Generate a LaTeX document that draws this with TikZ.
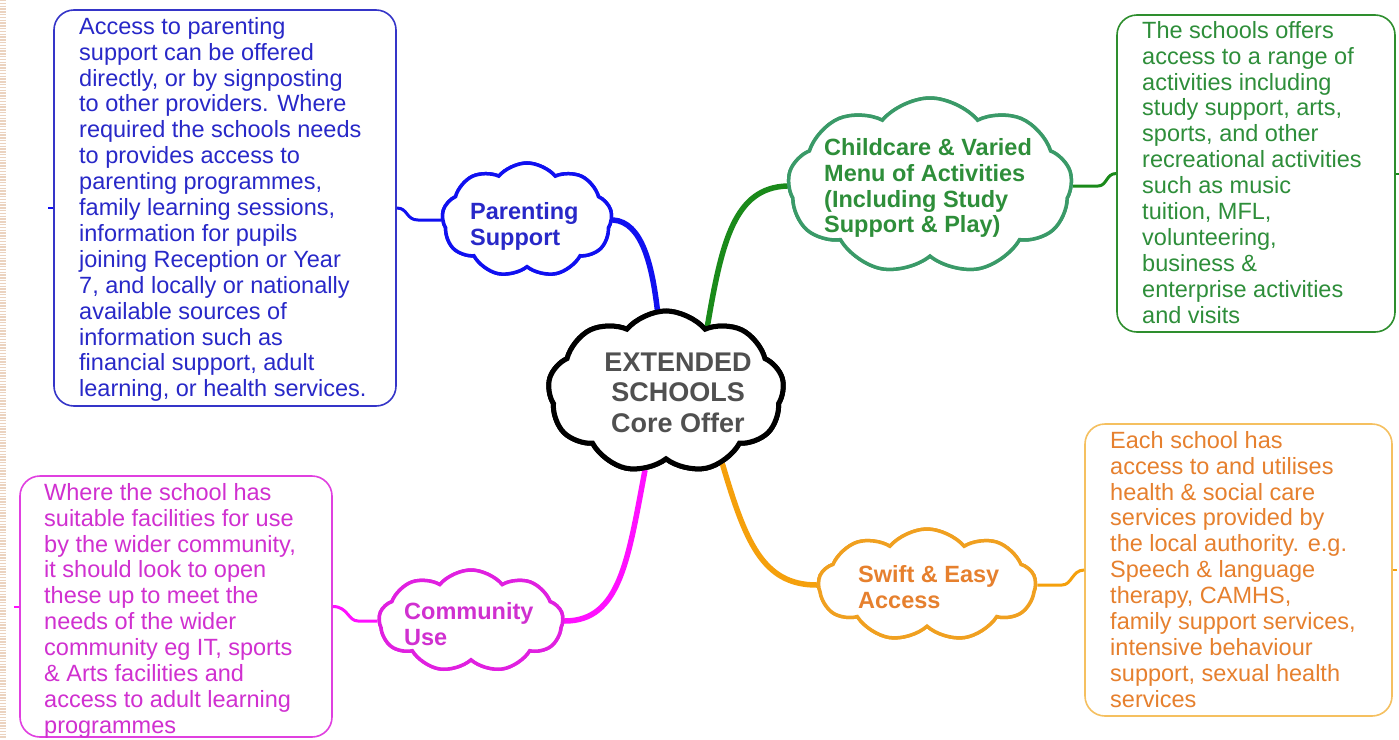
\documentclass[tikz,border=0pt]{standalone}
\usepackage{fontspec}
\setmainfont{Liberation Sans}
\usetikzlibrary{shapes.symbols}
\definecolor{cblue}{HTML}{1010F0}
\definecolor{tblue}{HTML}{2828C8}
\definecolor{bblue}{HTML}{3535C8}
\definecolor{cgreenline}{HTML}{1A8A1A}
\definecolor{cgreen}{HTML}{3A9A68}
\definecolor{tgreen}{HTML}{2E8E3A}
\definecolor{bgreen}{HTML}{2E8E2E}
\definecolor{corange}{HTML}{F5A00C}
\definecolor{tcorange}{HTML}{F0A020}
\definecolor{torange}{HTML}{E6802E}
\definecolor{borange}{HTML}{F5C060}
\definecolor{cmag}{HTML}{FF10FF}
\definecolor{tcmag}{HTML}{E020E0}
\definecolor{tmag}{HTML}{D030D0}
\definecolor{bmag}{HTML}{E040E0}
\definecolor{tgray}{HTML}{505050}
\definecolor{stripe}{HTML}{EBD3C0}
\begin{document}
\begin{tikzpicture}[x=1pt,y=-1pt,
  cloudshape/.style={cloud, cloud puffs=9, cloud puff arc=100, cloud ignores aspect, fill=white, inner sep=0pt},
  infobox/.style={rectangle, rounded corners=20pt, line width=1.6pt, fill=white},
  btext/.style={anchor=north west, inner sep=0pt, align=left, font=\fontsize{23.5}{25.9}\selectfont},
  ctext/.style={anchor=north west, inner sep=0pt, align=left, font=\fontsize{23.5}{25.9}\selectfont\bfseries},
  mainline/.style={line width=5.5pt, line cap=round},
  subline/.style={line width=3pt},
  stub/.style={line width=2pt},
  centercloud/.style={cloudshape, draw=black, line width=5pt, minimum width=236pt, minimum height=162pt},
  bluecloud/.style={cloudshape, draw=cblue, line width=3.5pt, minimum width=170pt, minimum height=114pt},
  greencloud/.style={cloudshape, draw=cgreen, line width=3.5pt, minimum width=284pt, minimum height=176pt},
  orangecloud/.style={cloudshape, draw=tcorange, line width=3.5pt, minimum width=217pt, minimum height=112pt},
  magcloud/.style={cloudshape, draw=tcmag, line width=3.5pt, minimum width=184pt, minimum height=102pt}]
\useasboundingbox (0,0) rectangle (1399,739);
\fill[white] (0,0) rectangle (1399,739);
\draw[stripe, line width=6pt, dash pattern=on 1.4pt off 1.4pt] (3,0) -- (3,739);

% info boxes
\node[infobox, draw=bblue, minimum width=342pt, minimum height=396pt] (pbox) at (225,208) {};
\node[infobox, draw=bgreen, minimum width=278pt, minimum height=317pt] (gbox) at (1256,173.5) {};
\node[infobox, draw=borange, minimum width=307pt, minimum height=292pt] (obox) at (1238.5,570) {};
\node[infobox, draw=bmag, minimum width=312pt, minimum height=261pt] (mbox) at (176,606.5) {};

% clouds (for anchors)
\node[centercloud] (cc) at (666,392) {};
\node[bluecloud] (pc) at (527,220) {};
\node[greencloud] (gc) at (930,186) {};
\node[orangecloud] (sc) at (927,585) {};
\node[magcloud] (uc) at (471,621) {};

\draw[mainline, cblue] (cc.96) .. controls (652,265) and (642,222) .. (pc.east);
\draw[mainline, cgreenline] (cc.58) .. controls (722,240) and (735,188) .. (gc.west);
\draw[mainline, corange] (cc.-52) .. controls (745,540) and (762,585) .. (sc.west);
\draw[mainline, cmag] (cc.-105) .. controls (628,560) and (620,621) .. (uc.east);

% clouds drawn over the main connectors
\node[centercloud] at (cc) {};
\node[bluecloud] at (pc) {};
\node[greencloud] at (gc) {};
\node[orangecloud] at (sc) {};
\node[magcloud] at (uc) {};

% sub connectors
\draw[subline, cblue] (pc.west) -- (418,220) .. controls (406,220) and (408,208) .. (pbox.east);
\draw[subline, cgreenline] (gc.east) -- (1098,186) .. controls (1107,186) and (1106,173.5) .. (gbox.west);
\draw[subline, corange] (sc.east) -- (1062,585) .. controls (1072,585) and (1072,570) .. (obox.west);
\draw[subline, cmag] (uc.west) -- (358,621) .. controls (348,621) and (348,606.5) .. (mbox.east);

% stubs
\draw[stub, cblue] (pbox.west) -- ++(-5,0);
\draw[stub, cgreenline] (gbox.east) -- ++(4,0);
\draw[stub, corange] (obox.east) -- ++(4,0);
\draw[stub, cmag] (mbox.west) -- ++(-5,0);

% cloud texts
\node[anchor=north, inner sep=0pt, align=center, text=tgray, font=\fontsize{27}{30.5}\selectfont\bfseries] (ct) at (678,352.7) {EXTENDED\\SCHOOLS\\Core Offer};
\node[ctext, text=tblue] (pt) at (470,202) {Parenting\\Support};
\node[ctext, text=tgreen] (gt) at (824,138) {Childcare \& Varied\\Menu of Activities\\(Including Study\\Support \& Play)};
\node[ctext, text=torange] (st) at (858,565) {Swift \& Easy\\Access};
\node[ctext, text=tmag] (ut) at (404,602) {Community\\Use};

% box texts
\node[btext, text=tblue] (pbt) at (79,17) {Access to parenting\\support can be offered\\directly, or by signposting\\to other providers. Where\\required the schools needs\\to provides access to\\parenting programmes,\\family learning sessions,\\information for pupils\\joining Reception or Year\\7, and locally or nationally\\available sources of\\information such as\\financial support, adult\\learning, or health services.};
\node[btext, text=tgreen] (gbt) at (1142,21) {The schools offers\\access to a range of\\activities including\\study support, arts,\\sports, and other\\recreational activities\\such as music\\tuition, MFL,\\volunteering,\\business \&\\enterprise activities\\and visits};
\node[btext, text=torange] (obt) at (1110,431) {Each school has\\access to and utilises\\health \& social care\\services provided by\\the local authority. e.g.\\Speech \& language\\therapy, CAMHS,\\family support services,\\intensive behaviour\\support, sexual health\\services};
\node[btext, text=tmag] (mbt) at (44,483) {Where the school has\\suitable facilities for use\\by the wider community,\\it should look to open\\these up to meet the\\needs of the wider\\community eg IT, sports\\\& Arts facilities and\\access to adult learning\\programmes};
\end{tikzpicture}
\end{document}
